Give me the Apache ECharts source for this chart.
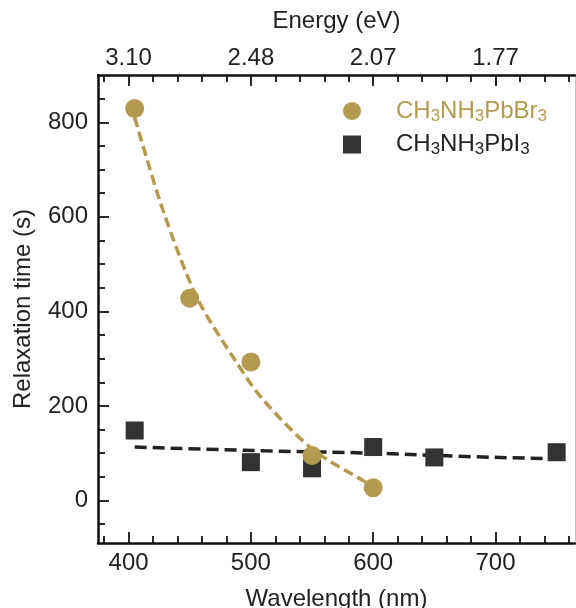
<!DOCTYPE html>
<html lang="en">
<head>
  <meta charset="UTF-8">
  <title>Relaxation time vs wavelength</title>
  <script src="https://cdn.jsdelivr.net/npm/echarts@6/dist/echarts.min.js"></script>
  <style>
    body { margin: 0; background: #fff; }
    #main { width: 576px; height: 608px; }
  </style>
</head>
<body>
  <div id="main"></div>
  <script>
  // measured points
  const brX = [405, 450, 500, 550, 600];
  const brY = [829, 428, 293, 95, 27];
  const iX = [405, 500, 550, 600, 650, 750];
  const iY = [148, 81, 68, 113, 91, 102];

  // dashed fit curves
  const brFitX = [405, 428, 456, 488, 510, 551, 591, 600];
  const brFitY = [810, 615, 429, 293, 213, 107, 43, 30];
  const iFitX = [405, 511, 600, 676, 750];
  const iFitY = [113, 105, 100, 93, 88];

  // ticks
  const xMajor = [400, 500, 600, 700];
  const xMinor = [380, 420, 440, 460, 480, 520, 540, 560, 580, 620, 640, 660, 680, 720, 740, 760];
  const energyLabels = ['3.10', '2.48', '2.07', '1.77'];
  const yMajor = [0, 200, 400, 600, 800];
  const yMinor = [-50, 50, 100, 150, 250, 300, 350, 450, 500, 550, 650, 700, 750, 850];

  const gold = '#b39a4f';
  const dark = '#333333';
  const font = '"Liberation Sans", Arial, sans-serif';
  const FS = 24;
  const X_MIN = 375, X_MAX = 765, Y_MIN = -90, Y_MAX = 900;

  const pair = (xs, ys) => xs.map((x, i) => [x, ys[i]]);

  function xAx(pos, ticks, len, opts) {
    return Object.assign({
      type: 'value', position: pos, min: X_MIN, max: X_MAX,
      splitLine: { show: false },
      axisLine: { show: false, onZero: false },
      axisTick: { show: true, inside: true, length: len, customValues: ticks,
                  lineStyle: { color: '#111', width: 1.8 } },
      axisLabel: { show: false }
    }, opts || {});
  }
  function yAx(pos, ticks, len, opts) {
    return Object.assign({
      type: 'value', position: pos, min: Y_MIN, max: Y_MAX,
      splitLine: { show: false },
      axisLine: { show: false, onZero: false },
      axisTick: { show: true, inside: true, length: len, customValues: ticks,
                  lineStyle: { color: '#111', width: 1.8 } },
      axisLabel: { show: false }
    }, opts || {});
  }
  const frame = { show: true, onZero: false, lineStyle: { color: '#111', width: 2.5 } };
  const label = { show: true, fontSize: FS, color: '#222', fontFamily: font };
  const title = { fontSize: FS, color: '#222', fontFamily: font };

  const rich = {
    g0: { color: gold, fontSize: FS, fontFamily: font, padding: [0, 0, 0, 30] },
    g: { color: gold, fontSize: FS, fontFamily: font },
    gs: { color: gold, fontSize: 17, fontFamily: font, padding: [10, 0, 0, 0] },
    k0: { color: '#222', fontSize: FS, fontFamily: font, padding: [0, 0, 0, 30] },
    k: { color: '#222', fontSize: FS, fontFamily: font },
    ks: { color: '#222', fontSize: 17, fontFamily: font, padding: [10, 0, 0, 0] }
  };

  const chart = echarts.init(document.getElementById('main'));
  chart.setOption({
    animation: false,
    textStyle: { fontFamily: font },
    grid: { left: 98, right: 1, top: 75, bottom: 65, containLabel: false, outerBoundsMode: 'none' },
    legend: {
      orient: 'vertical', left: 338, top: 94, itemWidth: 18, itemHeight: 18, itemGap: 8,
      data: [{ name: 'CH3NH3PbBr3' }, { name: 'CH3NH3PbI3' }],
      formatter: function (name) {
        if (name === 'CH3NH3PbBr3') return '{g0|CH}{gs|3}{g|NH}{gs|3}{g|PbBr}{gs|3}';
        return '{k0|CH}{ks|3}{k|NH}{ks|3}{k|PbI}{ks|3}';
      },
      textStyle: { rich: rich }
    },
    xAxis: [
      xAx('bottom', xMajor, 11, {
        name: 'Wavelength (nm)', nameLocation: 'middle', nameGap: 44, nameTextStyle: title,
        axisLine: frame,
        axisLabel: Object.assign({ customValues: xMajor, margin: 8 }, label)
      }),
      xAx('bottom', xMinor, 7),
      xAx('top', xMajor, 11, {
        name: 'Energy (eV)', nameLocation: 'middle', nameGap: 42, nameTextStyle: title,
        axisLine: frame,
        axisLabel: Object.assign({ customValues: xMajor, margin: 5,
                                   formatter: v => energyLabels[xMajor.indexOf(v)] }, label)
      }),
      xAx('top', xMinor, 7)
    ],
    yAxis: [
      yAx('left', yMajor, 11, {
        name: 'Relaxation time (s)', nameLocation: 'middle', nameGap: 63, nameTextStyle: title,
        axisLine: frame,
        axisLabel: Object.assign({ customValues: yMajor, margin: 10 }, label)
      }),
      yAx('left', yMinor, 7),
      yAx('right', [], 0, {
        axisTick: { show: false },
        axisLine: { show: true, onZero: false, lineStyle: { color: '#c8c8c8', width: 1 } }
      })
    ],
    series: [
      {
        name: 'iFit', type: 'line', data: pair(iFitX, iFitY), smooth: true, showSymbol: false,
        lineStyle: { color: '#222', width: 3.5, type: [12, 6] }, z: 2
      },
      {
        name: 'CH3NH3PbI3', type: 'scatter', data: pair(iX, iY), symbol: 'rect', symbolSize: 18,
        itemStyle: { color: dark, opacity: 1 }, z: 3
      },
      {
        name: 'brFit', type: 'line', data: pair(brFitX, brFitY), smooth: 0.3,
        showSymbol: false, lineStyle: { color: gold, width: 3.5, type: [10, 5] }, z: 4
      },
      {
        name: 'CH3NH3PbBr3', type: 'scatter', data: pair(brX, brY), symbol: 'circle', symbolSize: 19,
        itemStyle: { color: gold, opacity: 1 }, z: 5
      }
    ]
  });
  </script>
</body>
</html>
